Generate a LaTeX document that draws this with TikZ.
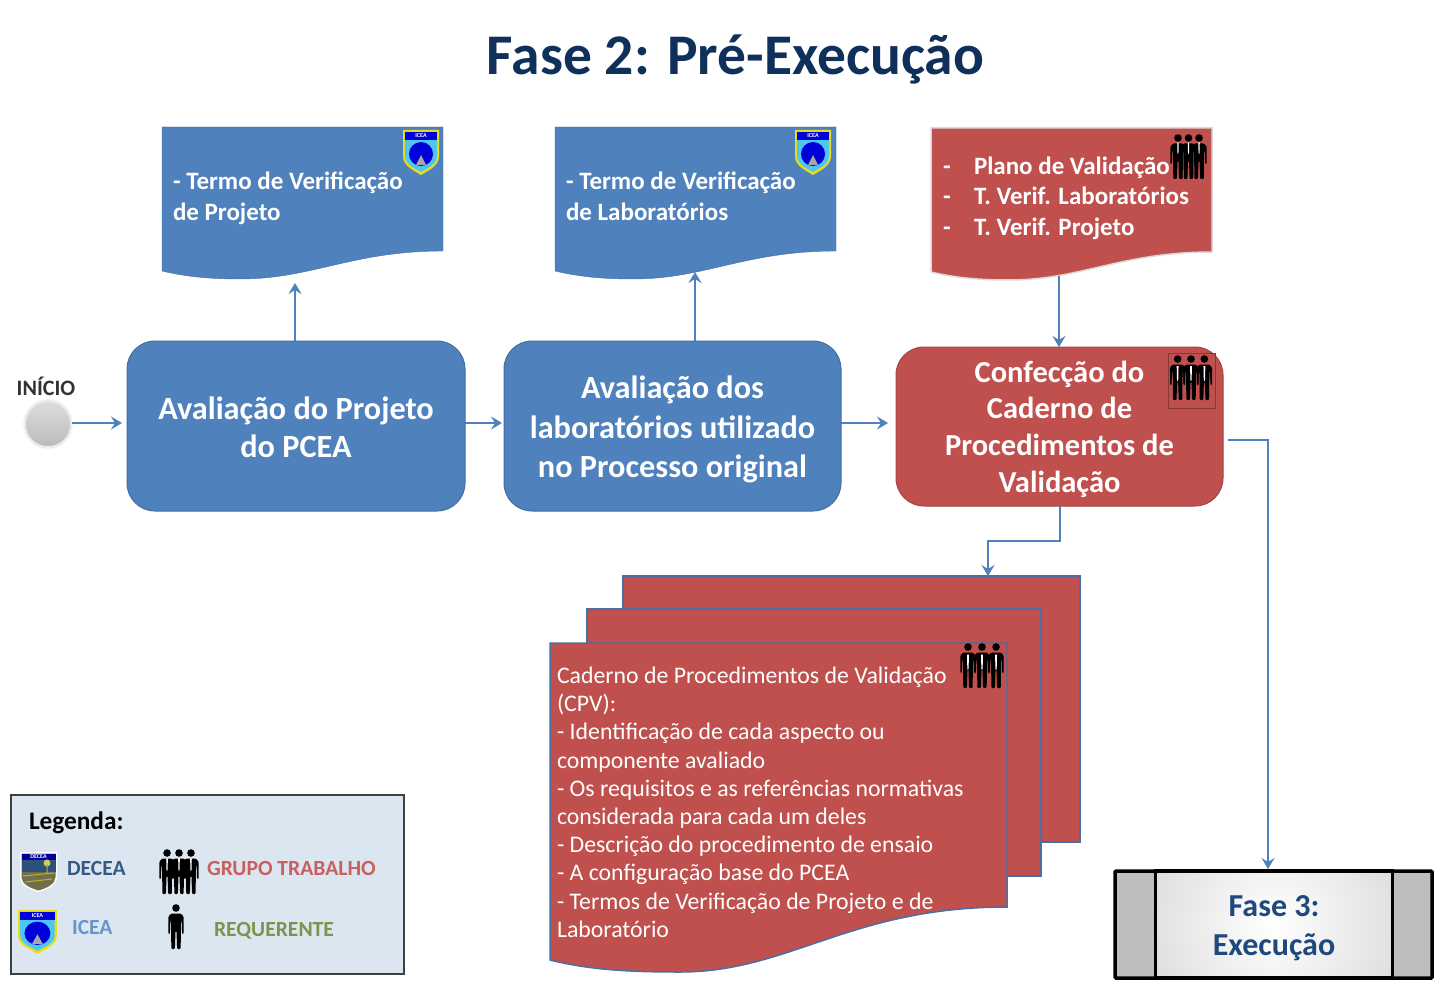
\documentclass[tikz,border=0pt]{standalone}
\usepackage{fontspec}
\setmainfont{Carlito}
\usepackage{tikz}
\usetikzlibrary{positioning,arrows.meta,calc,shadings}

\definecolor{blocoazul}{HTML}{4F81BD}
\definecolor{blocovermelho}{HTML}{C0504D}
\definecolor{tituloazul}{HTML}{10305C}
\definecolor{fasecinza}{HTML}{BEBEBE}
\definecolor{faseazul}{HTML}{1F497D}
\definecolor{legendafundo}{HTML}{DCE6F1}
\definecolor{bordapagina}{HTML}{4A6FA0}

\begin{document}
\begin{tikzpicture}[
        x=1pt,y=-1pt,
        outer sep=0pt,
        >={Stealth[length=11pt,width=13pt,inset=4pt]},
        flow/.style={->,draw=blocoazul,line width=2pt},
        title/.style={anchor=center,font=\fontsize{57.5}{57.5}\selectfont\bfseries,text=tituloazul,inner sep=0pt},
        bloco/.style={rectangle,rounded corners=28pt,line width=1pt,anchor=north west,inner sep=0pt},
        blocotexto/.style={inner sep=0pt,text=white,align=center,font=\fontsize{32.3}{39.5}\selectfont\bfseries},
        azul/.style={fill=blocoazul,draw=blocoazul!85!black},
        vermelho/.style={fill=blocovermelho,draw=blocovermelho!85!black},
        doctext/.style={anchor=base west,inner sep=0pt,align=left,text=white,
            font=\fontsize{25}{30.2}\selectfont\bfseries},
        pagina/.style={rectangle,anchor=north west,inner sep=0pt,fill=blocovermelho,
            draw=bordapagina,line width=1.5pt},
        rotulo/.style={anchor=west,inner sep=0pt,font=\fontsize{21.6}{21.6}\selectfont\bfseries},
        docshape/.pic={
            \path[pic actions] (0,0) -- (281,0) -- (281,124)
                .. controls (190,124) and (150,152) .. (78,152)
                .. controls (50,152) and (25,150) .. (0,144) -- cycle;
        },
        person/.pic={
            \fill[black] (0,4) circle (3.8);
            \fill[black,rounded corners=1pt] (-4.8,9.5) -- (4.8,9.5) -- (7.6,12.5) -- (7.6,30) -- (6.1,30) -- (5.6,16)
                -- (4.9,18) -- (4.7,45) -- (1.1,45) -- (0.5,27) -- (-0.5,27) -- (-1.1,45) -- (-4.7,45) -- (-4.9,18)
                -- (-5.6,16) -- (-6.1,30) -- (-7.6,30) -- (-7.6,12.5) -- cycle;
        },
        group/.pic={
            \foreach \px in {-13,13,0} {
                \pic at (\px,0) {person};
                \fill[white] (\px-0.9,10) -- (\px+0.9,10) -- (\px+0.6,22) -- (\px,24) -- (\px-0.6,22) -- cycle;
            }
        },
        icea/.pic={
            \fill[yellow!90!black] (0,0) -- (36,0) -- (36,26) .. controls (36,36) and (26,40) .. (18,45)
                .. controls (10,40) and (0,36) .. (0,26) -- cycle;
            \fill[cyan!70!white] (2,2) -- (34,2) -- (34,26) .. controls (34,34) and (25,38) .. (18,42)
                .. controls (11,38) and (2,34) .. (2,26) -- cycle;
            \fill[blue!85!black] (2,2) rectangle (34,10);
            \fill[blue!85!black] (18,24) circle (12);
            \fill[gray!70] (18,25) -- (23,35) -- (13,35) -- cycle;
            \node[text=white,inner sep=0pt,font=\fontsize{6}{6}\selectfont\bfseries] (icealabel) at (18,6) {ICEA};
        },
        decea/.pic={
            \fill[white] (0,0) -- (37,0) -- (37,25) .. controls (37,33) and (28,37) .. (18.5,40)
                .. controls (9,37) and (0,33) .. (0,25) -- cycle;
            \fill[black!45!olive!60!gray] (1.5,1.5) -- (35.5,1.5) -- (35.5,25) .. controls (35.5,32) and (27,36) .. (18.5,38.5)
                .. controls (10,36) and (1.5,32) .. (1.5,25) -- cycle;
            \fill[blue!60!black] (1.5,1.5) rectangle (35.5,8);
            \fill[faseazul!85!gray] (1.5,8) rectangle (35.5,20);
            \fill[yellow!60!gray] (27,11) circle (3.5);
            \draw[yellow!70!black,line width=1pt] (27,12) -- (27,22) (3,24) -- (34,21) (5,30) -- (32,27);
            \node[text=white,inner sep=0pt,font=\fontsize{6}{6}\selectfont\bfseries] (decealabel) at (18.5,4.8) {DECEA};
        }
    ]
        \useasboundingbox (0,0) rectangle (1447,995);

        % Titulo
        \node (titulo) at (735.5,59) [title] {Fase 2: Pré-Execução};

        % Documentos
        \pic at (162,127) [azul] {docshape};
        \node (termoprojeto) at (173,220) [doctext] {- Termo de Verificação\\de Projeto};
        \pic at (403,130) {icea};

        \pic at (555,127) [azul] {docshape};
        \node (termolab) at (566,220) [doctext] {- Termo de Verificação\\de Laboratórios};
        \pic at (795,130) {icea};

        \pic at (931,128) [fill=blocovermelho,draw=black!15,line width=1.5pt] {docshape};
        \node (planotraco) at (943,235) [doctext] {-\\-\\-};
        \node (plano) at (974,235) [doctext] {Plano de Validação\\T. Verif. Laboratórios\\T. Verif. Projeto};
        \pic[xscale=0.81,yscale=0.85] at (1188.5,134) {group};

        % Inicio
        \node (iniciolabel) at (46,386) [anchor=center,inner sep=0pt,text=black!80,font=\fontsize{22}{22}\selectfont\bfseries] {INÍCIO};
        \node (inicio) at (48,424) [circle,minimum size=47pt,inner sep=0pt,top color=black!13,bottom color=black!27,draw=black!7,line width=2.5pt] {};

        % Blocos
        \node (projeto) at (127,341) [bloco,azul,minimum width=338pt,minimum height=170pt] {};
        \node (projetotexto) at ($(projeto.center)+(0,1.5)$) [blocotexto,font=\fontsize{32.3}{38.5}\selectfont\bfseries] {Avaliação do Projeto\\do PCEA};
        \node (labs) at (504,341) [bloco,azul,minimum width=337pt,minimum height=170pt] {};
        \node (labstexto) at ($(labs.center)+(0,3.5)$) [blocotexto] {Avaliação dos\\laboratórios utilizado\\no Processo original};
        \node (confeccao) at (896,347) [bloco,vermelho,minimum width=327pt,minimum height=159pt] {};
        \node (confeccaotexto) at ($(confeccao.center)+(0,2.5)$) [blocotexto,font=\fontsize{30.5}{36.6}\selectfont\bfseries] {Confecção do\\Caderno de\\Procedimentos de\\Validação};
        \node (grupobox) at (1168,353) [rectangle,anchor=north west,inner sep=0pt,minimum width=47pt,minimum height=55pt,draw=blocovermelho!70!black,line width=.6pt] {};
        \pic[xscale=1.03,yscale=1.11] at (1191,355) {group};

        % Caderno
        \node (paginaback) at (623,576) [pagina,minimum width=457pt,minimum height=266pt] {};
        \node (paginamid) at (587,609) [pagina,minimum width=454pt,minimum height=267pt] {};
        \path[fill=blocovermelho,draw=bordapagina,line width=1.5pt] (550,643) -- (1007,643) -- (1007,907)
            .. controls (850,907) and (790,972) .. (680,972)
            .. controls (630,972) and (590,970) .. (550,960) -- cycle;
        \node (caderno) at (557,667) [anchor=north west,inner sep=0pt,align=left,text=white,font=\fontsize{23.8}{28.2}\selectfont]
            {Caderno de Procedimentos de Validação\\(CPV):\\- Identificação de cada aspecto ou\\componente avaliado\\- Os requisitos e as referências normativas\\considerada para cada um deles\\- Descrição do procedimento de ensaio\\- A configuração base do PCEA\\- Termos de Verificação de Projeto e de\\Laboratório};
        \pic[xscale=1.08,yscale=1.15] at (982,643) {group};

        % Fase 3
        \node (fase) at (1115,871) [rectangle,anchor=north west,inner sep=0pt,minimum width=317pt,minimum height=107pt,fill=fasecinza,draw=black,line width=3.5pt,rounded corners=1pt] {};
        \begin{scope}
            \clip (1155.5,871) rectangle (1392.5,978);
            \shade[inner color=white,outer color=fasecinza] (1274,924.5) circle (260);
        \end{scope}
        \node (fasecentro) at (1155.5,871) [rectangle,anchor=north west,inner sep=0pt,minimum width=237pt,minimum height=107pt,draw=black,line width=3.5pt] {};
        \node (fasetexto) at ($(fasecentro.center)+(0,4)$) [blocotexto,text=faseazul,font=\fontsize{32}{39}\selectfont\bfseries] {Fase 3:\\Execução};

        % Legenda
        \node (legenda) at (11,795) [rectangle,anchor=north west,inner sep=0pt,minimum width=393pt,minimum height=179pt,fill=legendafundo,draw=black!75,line width=1.5pt] {};
        \node (legendatitulo) at (29,823) [rotulo,text=black,font=\fontsize{25.3}{25.3}\selectfont\bfseries] {Legenda:};
        \pic at (20,852) {decea};
        \node (lgdecea) at (67,868) [rotulo,text=blocoazul!70!black] {DECEA};
        \pic[xscale=0.92,yscale=0.93] at (179,849) {group};
        \node (lggrupo) at (207,868) [rotulo,text=blocovermelho!90!white] {GRUPO TRABALHO};
        \pic[xscale=1.08,yscale=0.97] at (18,910) {icea};
        \node (lgicea) at (72,927) [rotulo,text=blocoazul!85!white] {ICEA};
        \pic at (176,904) {person};
        \node (lgreq) at (214,931) [rotulo,text=olive!55!green!70!black!80!white] {REQUERENTE};

        % Pontas livres
        \coordinate (tipinicio) at (122,423);
        \coordinate (tipprojeto) at (295,283);
        \coordinate (tiplabs) at (695,272);
        \coordinate (tiplabsb) at (502,423);
        \coordinate (tipconfeccao) at (888,423);
        \coordinate (fromplano) at (1059,276);
        \coordinate (tipcaderno) at (988,576);
        \coordinate (fromconfeccao) at (1228,440);
        \coordinate (tipfase) at (1268,869);

        % Setas
        \draw[flow] (inicio.east |- tipinicio) -- (tipinicio);
        \draw[flow] (projeto.east |- tiplabsb) -- (tiplabsb);
        \draw[flow] (labs.east |- tipconfeccao) -- (tipconfeccao);
        \draw[flow] (tipprojeto |- projeto.north) -- (tipprojeto);
        \draw[flow] (tiplabs |- labs.north) -- (tiplabs);
        \draw[flow] (fromplano) -- (fromplano |- confeccao.north);
        \draw[flow] (confeccao.south) -- ++(0,35) -| (tipcaderno);
        \draw[flow] (fromconfeccao) -| (tipfase);
\end{tikzpicture}
\end{document}
